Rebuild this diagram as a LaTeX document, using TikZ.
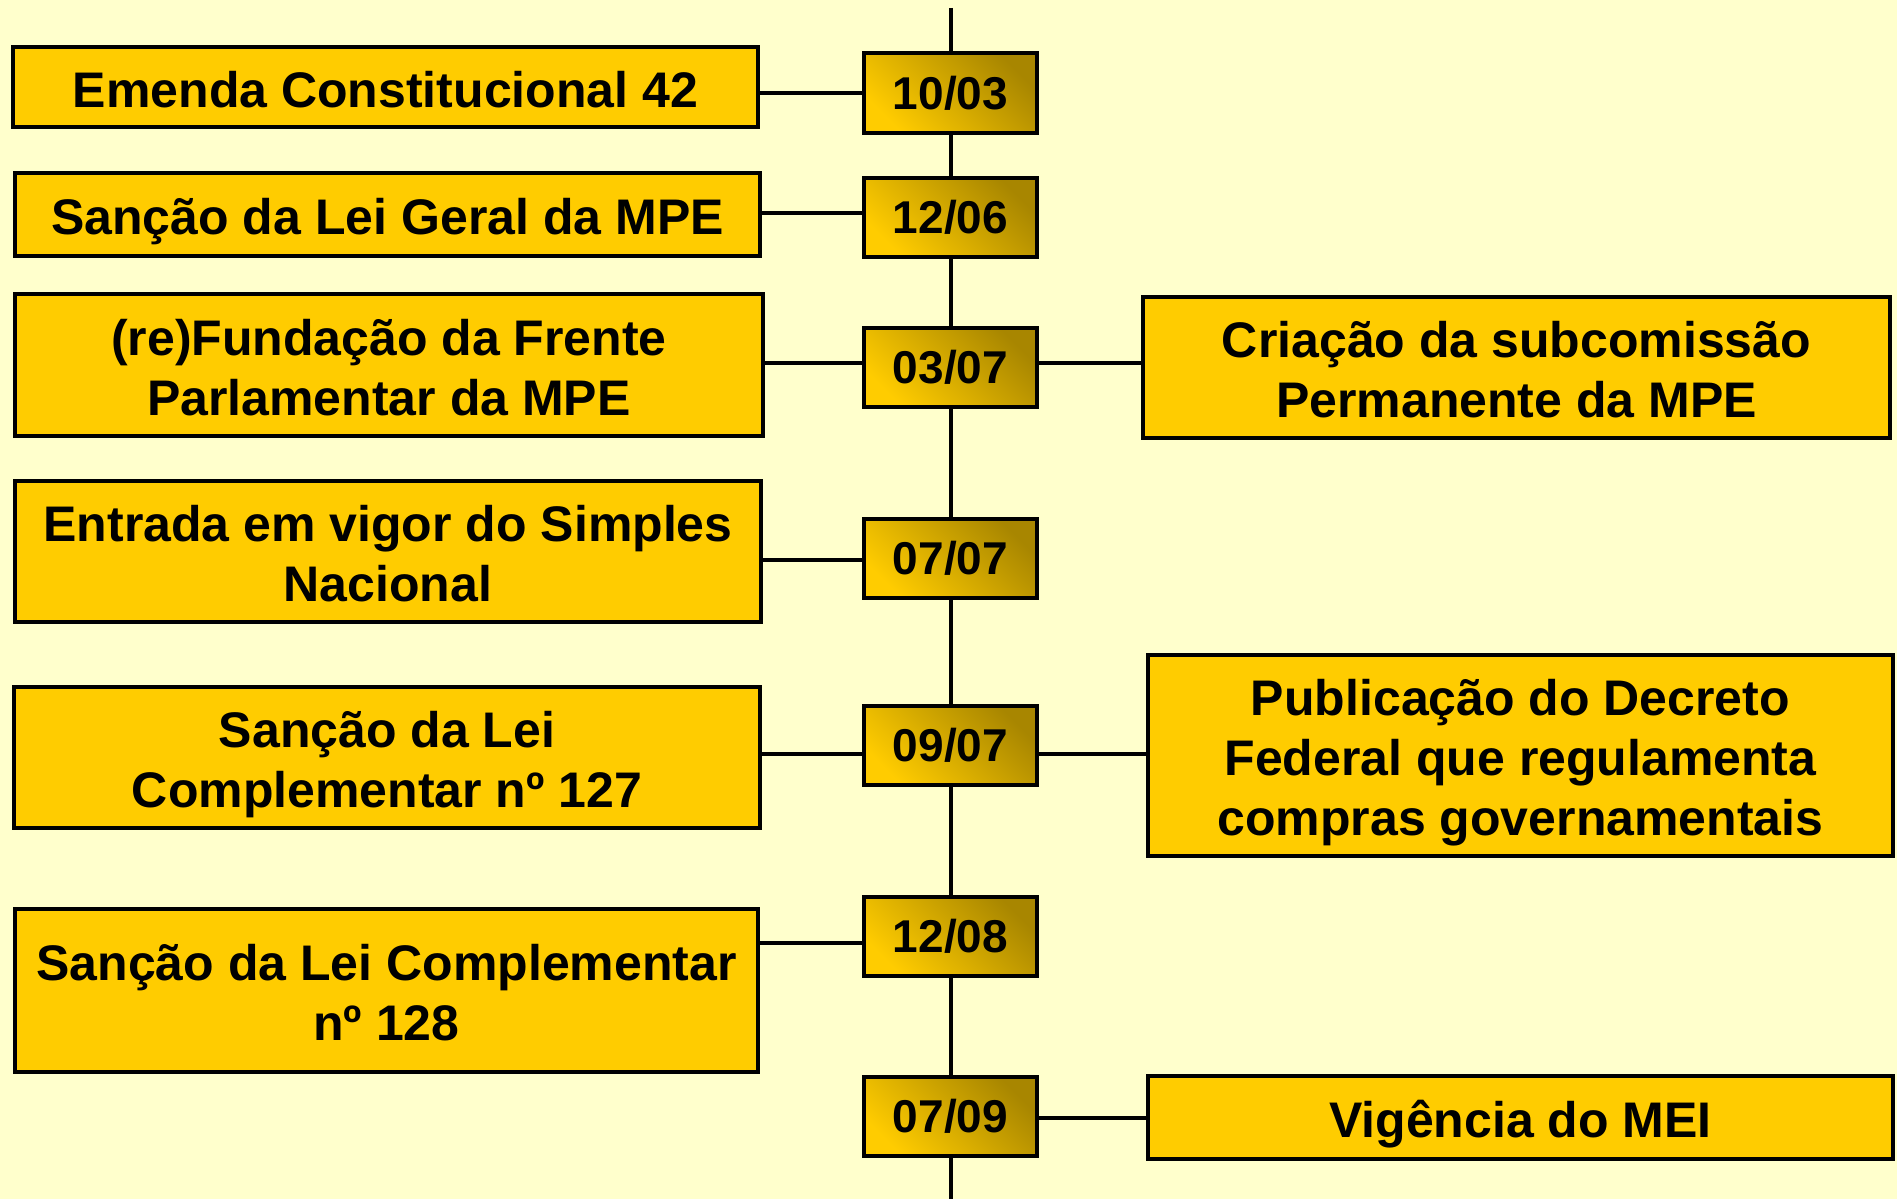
\documentclass[tikz,border=0pt]{standalone}
\usepackage{fontspec}
\setmainfont{Liberation Sans}
\definecolor{bgyellow}{HTML}{FFFFCC}
\definecolor{boxyellow}{HTML}{FFCC00}
\definecolor{darkgold}{HTML}{A88600}
\newcommand\tstrut{\rule{0pt}{52pt}}
\newcommand\bstrut{\rule[-12pt]{0pt}{12pt}}
\begin{document}
\begin{tikzpicture}[x=1pt,y=-1pt,
  event/.style={draw=black, line width=4pt, fill=boxyellow, inner sep=0pt, align=center,
    font=\fontsize{50}{60}\selectfont\bfseries},
  datebox/.style={draw=black, line width=4pt, inner sep=0pt, shading=axis,
    top color=darkgold, bottom color=boxyellow, shading angle=-45,
    minimum width=173pt, minimum height=79pt,
    font=\fontsize{46}{52}\selectfont\bfseries},
  link/.style={line width=4pt, draw=black}]
\fill[bgyellow] (0,0) rectangle (1897,1199);
\useasboundingbox (0,0) rectangle (1897,1199);

% left events
\node[event, minimum width=745pt, minimum height=80pt] (l1) at (385.5,87) {\tstrut Emenda Constitucional 42\bstrut};
\node[event, minimum width=745pt, minimum height=83pt] (l2) at (387.5,214.5) {\tstrut Sanção da Lei Geral da MPE\bstrut};
\node[event, minimum width=748pt, minimum height=142pt] (l3) at (389,365) {\tstrut(re)Fundação da Frente\\Parlamentar da MPE\bstrut};
\node[event, minimum width=746pt, minimum height=141pt] (l4) at (388,551.5) {\tstrut Entrada em vigor do Simples\\Nacional\bstrut};
\node[event, minimum width=746pt, minimum height=141pt] (l5) at (387,757.5) {\tstrut Sanção da Lei\\Complementar nº 127\bstrut};
\node[event, minimum width=743pt, minimum height=163pt] (l6) at (386.5,990.5) {\tstrut Sanção da Lei Complementar\\nº 128\bstrut};

% right events
\node[event, minimum width=747pt, minimum height=141pt] (r1) at (1516.5,367.5) {\tstrut Criação da subcomissão\\Permanente da MPE\bstrut};
\node[event, minimum width=745pt, minimum height=201pt] (r2) at (1520.5,755.5) {\tstrut Publicação do Decreto\\Federal que regulamenta\\compras governamentais\bstrut};
\node[event, minimum width=745pt, minimum height=83pt] (r3) at (1520.5,1117.5) {\tstrut Vigência do MEI\bstrut};

% dates
\node[datebox] (d1) at (950.5,93) {10/03};
\node[datebox] (d2) at (950.5,217) {12/06};
\node[datebox] (d3) at (950.5,367) {03/07};
\node[datebox] (d4) at (950.5,558.5) {07/07};
\node[datebox] (d5) at (950.5,745.5) {09/07};
\node[datebox] (d6) at (950.5,936) {12/08};
\node[datebox] (d7) at (950.5,1116) {07/09};

% timeline
\coordinate (top) at (950.5,8);
\coordinate (bot) at (950.5,1199);
\draw[link] (top) -- (d1.north);
\draw[link] (d1.south) -- (d2.north);
\draw[link] (d2.south) -- (d3.north);
\draw[link] (d3.south) -- (d4.north);
\draw[link] (d4.south) -- (d5.north);
\draw[link] (d5.south) -- (d6.north);
\draw[link] (d6.south) -- (d7.north);
\draw[link] (d7.south) -- (bot);

% connector heights
\coordinate (c1) at (0,93);
\coordinate (c2) at (0,213);
\coordinate (c3) at (0,363);
\coordinate (c4) at (0,560);
\coordinate (c5) at (0,754);
\coordinate (c6) at (0,943);
\coordinate (c7) at (0,1118);

\draw[link] (l1.east |- c1) -- (d1.west |- c1);
\draw[link] (l2.east |- c2) -- (d2.west |- c2);
\draw[link] (l3.east |- c3) -- (d3.west |- c3);
\draw[link] (d3.east |- c3) -- (r1.west |- c3);
\draw[link] (l4.east |- c4) -- (d4.west |- c4);
\draw[link] (l5.east |- c5) -- (d5.west |- c5);
\draw[link] (d5.east |- c5) -- (r2.west |- c5);
\draw[link] (l6.east |- c6) -- (d6.west |- c6);
\draw[link] (d7.east |- c7) -- (r3.west |- c7);
\end{tikzpicture}
\end{document}
